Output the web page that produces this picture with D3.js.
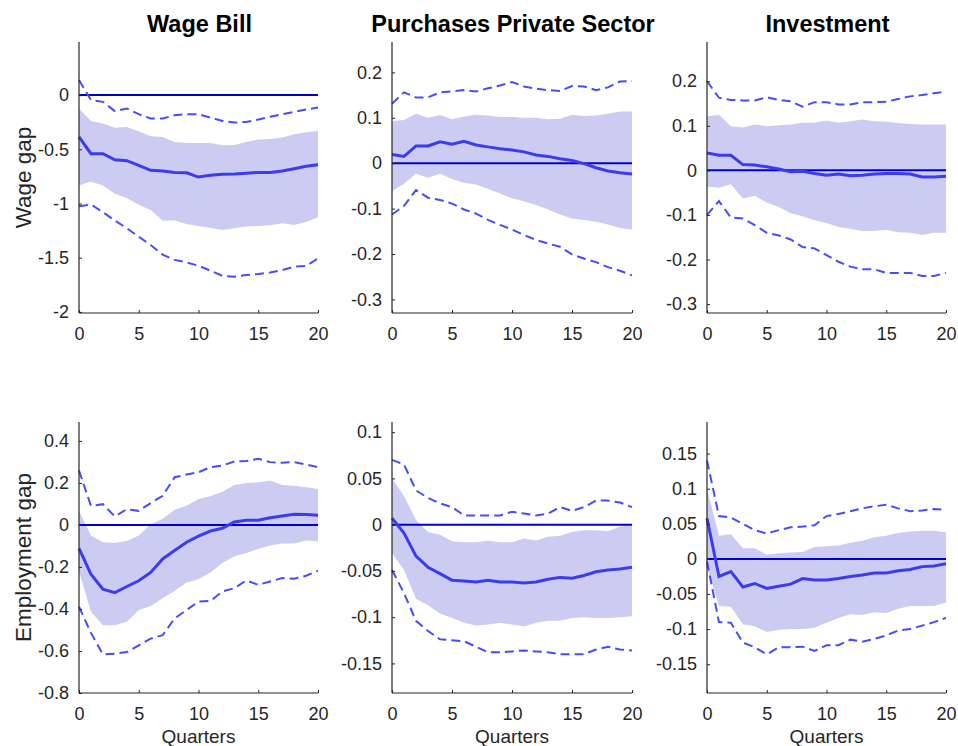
<!DOCTYPE html>
<head>
<meta charset="utf-8">
<script src="https://d3js.org/d3.v7.min.js"></script>
<style>
    body { margin: 0; background: #fff; }
    text { font-family: "Liberation Sans", Arial, Helvetica, sans-serif; fill: #262626; }
    .title { font-weight: bold; font-size: 23.5px; fill: #000; }
    .tick text { font-size: 18px; }
    .ylab { font-size: 22.5px; }
    .xlab { font-size: 19px; }
</style>
</head>
<body>
<script>
var quarters = d3.range(0, 21);

var colTitles = ["Wage Bill", "Purchases Private Sector", "Investment"];
var rowLabels = ["Wage gap", "Employment gap"];

// wage gap response to wage bill shock
var wbWageMean = [-0.386, -0.54, -0.54, -0.596, -0.605, -0.648, -0.694, -0.70, -0.713, -0.716, -0.756, -0.74, -0.731, -0.728, -0.72, -0.713, -0.713, -0.70, -0.68, -0.657, -0.642];
var wbWageBandHi = [-0.123, -0.238, -0.262, -0.30, -0.293, -0.333, -0.38, -0.386, -0.432, -0.441, -0.441, -0.441, -0.463, -0.46, -0.432, -0.41, -0.404, -0.392, -0.361, -0.343, -0.33];
var wbWageBandLo = [-0.833, -0.796, -0.833, -0.91, -0.95, -1.012, -1.059, -1.157, -1.157, -1.188, -1.207, -1.225, -1.244, -1.228, -1.213, -1.207, -1.20, -1.182, -1.198, -1.17, -1.127];
var wbWageCiHi = [0.139, -0.046, -0.062, -0.148, -0.123, -0.176, -0.216, -0.216, -0.185, -0.176, -0.176, -0.207, -0.238, -0.253, -0.247, -0.225, -0.20, -0.176, -0.154, -0.133, -0.114];
var wbWageCiLo = [-1.025, -1.009, -1.08, -1.157, -1.228, -1.306, -1.383, -1.472, -1.52, -1.543, -1.574, -1.62, -1.667, -1.676, -1.66, -1.651, -1.636, -1.614, -1.583, -1.577, -1.506];

// wage gap response to purchases shock
var ppWageMean = [0.019, 0.015, 0.038, 0.038, 0.047, 0.042, 0.048, 0.040, 0.036, 0.032, 0.029, 0.025, 0.018, 0.015, 0.010, 0.006, -0.001, -0.010, -0.017, -0.021, -0.024];
var ppWageBandHi = [0.093, 0.095, 0.109, 0.10, 0.106, 0.097, 0.103, 0.107, 0.105, 0.102, 0.102, 0.10, 0.10, 0.097, 0.098, 0.107, 0.104, 0.105, 0.109, 0.114, 0.114];
var ppWageBandLo = [-0.061, -0.045, -0.023, -0.032, -0.023, -0.035, -0.043, -0.047, -0.057, -0.067, -0.077, -0.084, -0.092, -0.102, -0.113, -0.122, -0.125, -0.129, -0.135, -0.143, -0.146];
var ppWageCiHi = [0.131, 0.156, 0.145, 0.145, 0.156, 0.158, 0.161, 0.158, 0.165, 0.171, 0.179, 0.169, 0.164, 0.161, 0.159, 0.17, 0.169, 0.161, 0.167, 0.18, 0.181];
var ppWageCiLo = [-0.113, -0.094, -0.059, -0.076, -0.081, -0.089, -0.102, -0.111, -0.125, -0.136, -0.146, -0.158, -0.169, -0.177, -0.184, -0.201, -0.21, -0.218, -0.229, -0.237, -0.247];

// wage gap response to investment shock
var invWageMean = [0.039, 0.034, 0.034, 0.013, 0.012, 0.008, 0.003, -0.003, -0.002, -0.007, -0.011, -0.008, -0.012, -0.011, -0.008, -0.007, -0.007, -0.008, -0.015, -0.015, -0.013];
var invWageBandHi = [0.121, 0.125, 0.099, 0.096, 0.103, 0.099, 0.101, 0.103, 0.107, 0.107, 0.112, 0.107, 0.11, 0.114, 0.11, 0.109, 0.106, 0.104, 0.103, 0.103, 0.103];
var invWageBandLo = [-0.036, -0.039, -0.031, -0.063, -0.057, -0.072, -0.082, -0.096, -0.103, -0.112, -0.118, -0.127, -0.131, -0.136, -0.136, -0.133, -0.139, -0.14, -0.145, -0.14, -0.14];
var invWageCiHi = [0.20, 0.163, 0.158, 0.157, 0.157, 0.164, 0.158, 0.155, 0.143, 0.153, 0.153, 0.148, 0.148, 0.153, 0.153, 0.154, 0.16, 0.166, 0.169, 0.173, 0.177];
var invWageCiLo = [-0.10, -0.069, -0.106, -0.108, -0.123, -0.14, -0.146, -0.155, -0.172, -0.175, -0.19, -0.205, -0.216, -0.222, -0.222, -0.23, -0.23, -0.23, -0.237, -0.237, -0.23];

// employment gap response to wage bill shock
var wbEmpMean = [-0.112, -0.234, -0.306, -0.322, -0.293, -0.266, -0.226, -0.162, -0.122, -0.082, -0.053, -0.029, -0.016, 0.014, 0.022, 0.022, 0.034, 0.043, 0.051, 0.05, 0.046];
var wbEmpBandHi = [0.067, -0.05, -0.082, -0.085, -0.077, -0.05, 0.003, 0.03, 0.072, 0.091, 0.123, 0.136, 0.158, 0.19, 0.20, 0.203, 0.211, 0.19, 0.187, 0.179, 0.171];
var wbEmpBandLo = [-0.221, -0.413, -0.477, -0.477, -0.461, -0.405, -0.386, -0.349, -0.314, -0.274, -0.258, -0.226, -0.181, -0.149, -0.133, -0.114, -0.098, -0.088, -0.088, -0.074, -0.078];
var wbEmpCiHi = [0.259, 0.091, 0.099, 0.04, 0.075, 0.067, 0.104, 0.139, 0.227, 0.24, 0.251, 0.275, 0.283, 0.302, 0.304, 0.315, 0.299, 0.296, 0.299, 0.288, 0.275];
var wbEmpCiLo = [-0.389, -0.514, -0.616, -0.613, -0.605, -0.573, -0.541, -0.525, -0.445, -0.405, -0.365, -0.362, -0.317, -0.301, -0.264, -0.285, -0.269, -0.253, -0.256, -0.242, -0.218];

// employment gap response to purchases shock
var ppEmpMean = [0.007, -0.009, -0.034, -0.046, -0.053, -0.06, -0.061, -0.062, -0.06, -0.062, -0.062, -0.063, -0.062, -0.059, -0.057, -0.058, -0.055, -0.051, -0.049, -0.048, -0.046];
var ppEmpBandHi = [0.05, 0.031, 0.005, -0.008, -0.011, -0.018, -0.019, -0.019, -0.017, -0.019, -0.019, -0.015, -0.017, -0.013, -0.012, -0.008, -0.006, -0.006, -0.007, -0.002, -0.001];
var ppEmpBandLo = [-0.031, -0.049, -0.08, -0.087, -0.096, -0.101, -0.106, -0.109, -0.108, -0.106, -0.108, -0.11, -0.106, -0.104, -0.104, -0.101, -0.10, -0.101, -0.101, -0.10, -0.099];
var ppEmpCiHi = [0.07, 0.065, 0.037, 0.029, 0.023, 0.019, 0.01, 0.01, 0.01, 0.01, 0.014, 0.012, 0.01, 0.012, 0.019, 0.015, 0.019, 0.026, 0.026, 0.024, 0.019];
var ppEmpCiLo = [-0.049, -0.074, -0.104, -0.115, -0.124, -0.125, -0.126, -0.132, -0.138, -0.138, -0.137, -0.136, -0.137, -0.138, -0.14, -0.14, -0.14, -0.135, -0.132, -0.135, -0.136];

// employment gap response to investment shock
var invEmpMean = [0.058, -0.025, -0.018, -0.04, -0.035, -0.042, -0.039, -0.036, -0.028, -0.03, -0.03, -0.028, -0.025, -0.023, -0.02, -0.02, -0.017, -0.015, -0.011, -0.01, -0.007];
var invEmpBandHi = [0.10, 0.033, 0.035, 0.015, 0.015, 0.006, 0.008, 0.009, 0.01, 0.017, 0.018, 0.019, 0.023, 0.026, 0.031, 0.033, 0.037, 0.039, 0.04, 0.04, 0.038];
var invEmpBandLo = [-0.011, -0.067, -0.068, -0.093, -0.096, -0.104, -0.101, -0.10, -0.10, -0.098, -0.091, -0.084, -0.079, -0.08, -0.076, -0.077, -0.071, -0.067, -0.067, -0.067, -0.062];
var invEmpCiHi = [0.14, 0.061, 0.059, 0.05, 0.041, 0.036, 0.041, 0.045, 0.046, 0.048, 0.061, 0.064, 0.068, 0.072, 0.075, 0.077, 0.072, 0.068, 0.069, 0.071, 0.07];
var invEmpCiLo = [-0.004, -0.09, -0.091, -0.119, -0.126, -0.136, -0.126, -0.126, -0.125, -0.131, -0.123, -0.123, -0.115, -0.118, -0.114, -0.109, -0.102, -0.10, -0.095, -0.09, -0.084];

var xTicks = [0, 5, 10, 15, 20];
var yTicks = [
    [-2, -1.5, -1, -0.5, 0],
    [-0.3, -0.2, -0.1, 0, 0.1, 0.2],
    [-0.3, -0.2, -0.1, 0, 0.1, 0.2],
    [-0.8, -0.6, -0.4, -0.2, 0, 0.2, 0.4],
    [-0.15, -0.1, -0.05, 0, 0.05, 0.1],
    [-0.15, -0.1, -0.05, 0, 0.05, 0.1, 0.15]
];
var yLimits = [
    [-2.01, 0.49], [-0.33, 0.267], [-0.32, 0.288],
    [-0.8, 0.49], [-0.182, 0.111], [-0.191, 0.195]
];

var panels = [
    [wbWageMean, wbWageBandLo, wbWageBandHi, wbWageCiLo, wbWageCiHi],
    [ppWageMean, ppWageBandLo, ppWageBandHi, ppWageCiLo, ppWageCiHi],
    [invWageMean, invWageBandLo, invWageBandHi, invWageCiLo, invWageCiHi],
    [wbEmpMean, wbEmpBandLo, wbEmpBandHi, wbEmpCiLo, wbEmpCiHi],
    [ppEmpMean, ppEmpBandLo, ppEmpBandHi, ppEmpCiLo, ppEmpCiHi],
    [invEmpMean, invEmpBandLo, invEmpBandHi, invEmpCiLo, invEmpCiHi]
];

var colX = [[79, 318], [392, 632], [707, 946]];
var rowY = [[42, 313], [422, 693]];

var fmt = function(v) { return String(+v.toFixed(2)); };

var svg = d3.select("body").append("svg")
    .attr("width", 958)
    .attr("height", 746);

panels.forEach(function(p, i) {
    var row = Math.floor(i / 3), col = i % 3;

    var x = d3.scaleLinear().domain([0, 20]).range(colX[col]);
    var y = d3.scaleLinear().domain(yLimits[i]).range([rowY[row][1], rowY[row][0]]);

    var g = svg.append("g");

    // shaded band
    var area = d3.area()
        .x(function(d) { return x(d); })
        .y0(function(d) { return y(p[1][d]); })
        .y1(function(d) { return y(p[2][d]); });
    g.append("path")
        .datum(quarters)
        .attr("d", area)
        .attr("fill", "#ccccf3");

    var line = function(arr) {
        return d3.line()
            .x(function(d) { return x(d); })
            .y(function(d) { return y(arr[d]); })(quarters);
    };

    // zero line
    g.append("line")
        .attr("x1", x(0)).attr("x2", x(20))
        .attr("y1", y(0)).attr("y2", y(0))
        .attr("stroke", "#0000cc")
        .attr("stroke-width", 2);

    // dashed outer bands
    [p[3], p[4]].forEach(function(arr) {
        g.append("path")
            .attr("d", line(arr))
            .attr("fill", "none")
            .attr("stroke", "#4a4aff")
            .attr("stroke-width", 2)
            .attr("stroke-dasharray", "9,5");
    });

    // median response
    g.append("path")
        .attr("d", line(p[0]))
        .attr("fill", "none")
        .attr("stroke", "#3b3bf2")
        .attr("stroke-width", 3);

    var xAxis = d3.axisBottom(x).tickValues(xTicks).tickSize(-3).tickPadding(14).tickFormat(fmt);
    var yAxis = d3.axisLeft(y).tickValues(yTicks[i]).tickSize(-3).tickPadding(10).tickFormat(fmt);

    var gx = g.append("g")
        .attr("transform", "translate(0," + rowY[row][1] + ")")
        .call(xAxis);
    var gy = g.append("g")
        .attr("transform", "translate(" + colX[col][0] + ",0)")
        .call(yAxis);

    [gx, gy].forEach(function(a) {
        a.select(".domain").attr("stroke", "#262626").attr("stroke-width", 1.2);
        a.selectAll(".tick line").attr("stroke", "#262626");
        a.selectAll(".tick text").attr("fill", "#262626");
    });
    gy.select(".domain").attr("d", "M0," + rowY[row][0] + "V" + rowY[row][1]);
    gx.select(".domain").attr("d", "M" + colX[col][0] + ",0H" + colX[col][1]);

    if (row === 0) {
        g.append("text")
            .attr("class", "title")
            .attr("x", (colX[col][0] + colX[col][1]) / 2 + 1)
            .attr("y", 32)
            .attr("text-anchor", "middle")
            .text(colTitles[col]);
    } else {
        g.append("text")
            .attr("class", "xlab")
            .attr("x", (colX[col][0] + colX[col][1]) / 2)
            .attr("y", 743)
            .attr("text-anchor", "middle")
            .text("Quarters");
    }

    if (col === 0) {
        var cy = (rowY[row][0] + rowY[row][1]) / 2;
        g.append("text")
            .attr("class", "ylab")
            .attr("transform", "translate(31," + cy + ") rotate(-90)")
            .attr("text-anchor", "middle")
            .text(rowLabels[row]);
    }
});
</script>
</body>
